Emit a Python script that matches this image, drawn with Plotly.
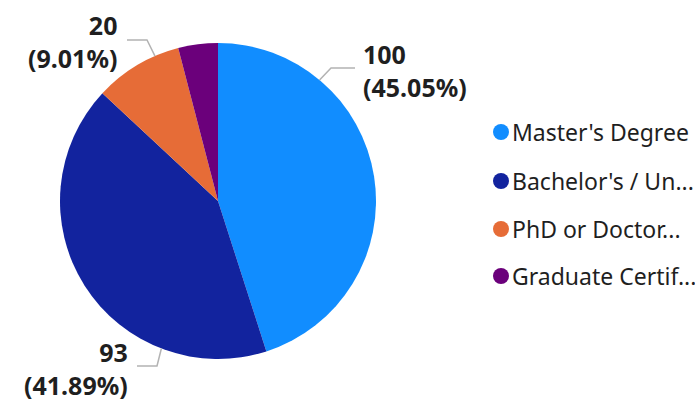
import math
import plotly.graph_objects as go

# Degree breakdown
categories = ["Master's Degree", "Bachelor's / Undergraduate Degree", "PhD or Doctorate", "Graduate Certificate"]
legend_labels = ["Master's Degree", "Bachelor's / Un...", "PhD or Doctor...", "Graduate Certif..."]
counts = [100, 93, 20, 9]
colors = ["#118DFF", "#12239E", "#E66C37", "#6B007B"]

W, H = 695, 402
CX, CY, R = 218, 201, 158  # pie centre / radius in pixels

def px(x):
    return x / W

def py(y):
    return 1 - y / H

total = sum(counts)
pcts = [c / total * 100 for c in counts]

fig = go.Figure()
fig.add_trace(go.Pie(
    labels=categories,
    values=counts,
    sort=False,
    direction="clockwise",
    rotation=0,
    marker=dict(colors=colors, line=dict(width=0)),
    textinfo="none",
    hoverinfo="label+value+percent",
    showlegend=False,
    domain=dict(x=[px(CX - R), px(CX + R)], y=[py(CY + R), py(CY - R)]),
))

TEXT = "#1F1F1F"
FONT = "Noto Sans"

# Data labels with elbow leader lines: (slice index, edge angle, elbow, end, text x, anchor, centre y)
label_specs = [
    (0, 40, (331, 68), (355, 68), 361, "left", 70),
    (2, 336.5, (147, 40), (127, 40), 119, "right", 41),
    (1, 201, (157, 366), (137, 366), 130, "right", 368),
]
shapes = []
annotations = []
for idx, ang, elbow, end, tx, anchor, yc in label_specs:
    a = math.radians(ang)
    ex, ey = CX + R * math.sin(a), CY - R * math.cos(a)
    shapes.append(dict(
        type="path", xref="paper", yref="paper",
        path=f"M {px(ex)},{py(ey)} L {px(elbow[0])},{py(elbow[1])} L {px(end[0])},{py(end[1])}",
        line=dict(color="#B3B3B3", width=1.5),
    ))
    annotations.append(dict(
        x=px(tx), y=py(yc), xref="paper", yref="paper",
        text=f"<b>{counts[idx]}</b><br><b>({pcts[idx]:.2f}%)</b>",
        showarrow=False, align=anchor,
        xanchor=anchor, yanchor="middle",
        font=dict(family=FONT, size=25, color=TEXT),
    ))

# Legend with round markers
legend_y = [132, 181, 229, 276]
for lab, col, yy in zip(legend_labels, colors, legend_y):
    shapes.append(dict(
        type="circle", xref="paper", yref="paper",
        x0=px(493), x1=px(509), y0=py(yy + 8), y1=py(yy - 8),
        fillcolor=col, line=dict(width=0),
    ))
    annotations.append(dict(
        x=px(510), y=py(yy), xref="paper", yref="paper",
        text=lab, showarrow=False, xanchor="left", yanchor="middle",
        font=dict(family=FONT, size=23, color=TEXT),
    ))

fig.update_layout(
    width=W, height=H,
    margin=dict(l=0, r=0, t=0, b=0),
    paper_bgcolor="white",
    plot_bgcolor="white",
    shapes=shapes,
    annotations=annotations,
)

fig.write_html("out.html")
